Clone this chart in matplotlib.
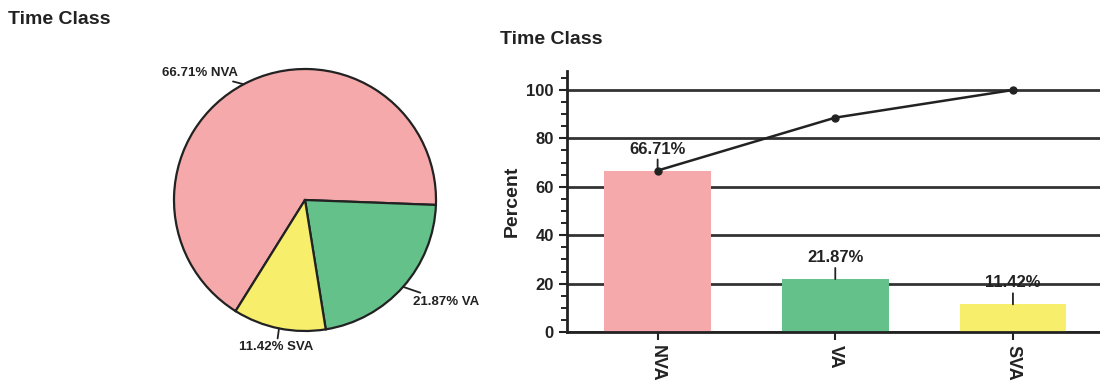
import numpy as np
import matplotlib
matplotlib.use("Agg")
import matplotlib.pyplot as plt

# data
categories = ["NVA", "VA", "SVA"]
percents = [66.71, 21.87, 11.42]
colors = ["#f5a9ab", "#64c18a", "#f7ef6b"]
y_ticks = [0, 20, 40, 60, 80, 100]

plt.rcParams['font.family'] = ['Liberation Sans', 'DejaVu Sans']
plt.rcParams['font.weight'] = 'bold'
plt.rcParams['axes.labelweight'] = 'bold'

W, H = 1100, 385
fig = plt.figure(figsize=(W / 100, H / 100), dpi=100, facecolor='white')

# ---- pie (left) ----
cx, cy, r, half = 305, 200, 131, 160
ax_pie = fig.add_axes([(cx - half) / W, (H - cy - half) / H, 2 * half / W, 2 * half / H])
wedges, _ = ax_pie.pie(percents, colors=colors, startangle=238, counterclock=False,
                       wedgeprops=dict(edgecolor='#222222', linewidth=1.6))
ax_pie.set_xlim(-half / r, half / r)
ax_pie.set_ylim(-half / r, half / r)
ax_pie.set_aspect('auto')

for w, cat, p in zip(wedges, categories, percents):
    ang = np.deg2rad((w.theta1 + w.theta2) / 2)
    x0, y0 = np.cos(ang), np.sin(ang)
    x1, y1 = 1.1 * x0, 1.1 * y0
    ha = 'right' if x0 < -0.2 else ('left' if x0 > 0.2 else 'center')
    va = 'top' if y0 < -0.6 else 'center'
    ax_pie.annotate(f"{p:.2f}% {cat}", xy=(x0, y0), xytext=(x1, y1),
                    ha=ha, va=va, fontsize=9.5, color='#222222',
                    arrowprops=dict(arrowstyle='-', color='#222222', lw=1.3,
                                    shrinkA=0, shrinkB=0))

fig.text(8 / W, 1 - 20 / H, "Time Class", fontsize=14, va='center', ha='left', color='#222222')

# ---- pareto bar (right) ----
y0_px, px_per = 332, 2.42
top_val = 108
ax = fig.add_axes([567 / W, (H - y0_px) / H, (W - 567) / W, top_val * px_per / H])
x = np.arange(len(categories))
ax.bar(x, percents, width=0.6, color=colors, zorder=2)
cum = np.cumsum(percents)
ax.plot(x, cum, color='#222222', lw=1.8, marker='o', markersize=5, zorder=4)

for xi, p in zip(x, percents):
    ax.annotate(f"{p:.2f}%", xy=(xi, p), xytext=(0, 10), textcoords='offset points',
                ha='center', va='bottom', fontsize=12, color='#222222', zorder=5,
                arrowprops=dict(arrowstyle='-', color='#222222', lw=1.3,
                                shrinkA=0, shrinkB=0))

ax.set_xlim(-0.51, 2.49)
ax.set_ylim(0, top_val)
ax.set_yticks(y_ticks)
ax.set_yticks(np.arange(0, 106, 5), minor=True)
ax.yaxis.grid(True, color='#333333', lw=2, zorder=0)
ax.set_axisbelow(True)
ax.set_xticks(x)
ax.set_xticklabels(categories, rotation=-90)
ax.tick_params(axis='both', colors='#222222', labelsize=12, width=1.5, length=6)
ax.tick_params(axis='x', labelsize=13)
ax.tick_params(axis='y', which='minor', width=1.2, length=4)
for s in ['top', 'right']:
    ax.spines[s].set_visible(False)
for s in ['left', 'bottom']:
    ax.spines[s].set_linewidth(2)
    ax.spines[s].set_color('#222222')
ax.set_ylabel("Percent", fontsize=14, color='#222222', labelpad=4)

fig.text(500 / W, 1 - 40 / H, "Time Class", fontsize=14, va='center', ha='left', color='#222222')

fig.savefig("out.png", dpi=100, facecolor='white')
